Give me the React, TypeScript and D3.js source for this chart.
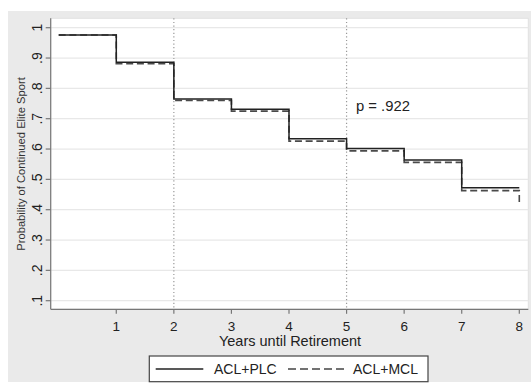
import React from "react";
import * as d3 from "d3";

const years = [0, 1, 2, 3, 4, 5, 6, 7, 8];
const aclPlc = [0.976, 0.886, 0.765, 0.731, 0.634, 0.602, 0.564, 0.472, 0.472];
const aclMcl = [0.976, 0.881, 0.760, 0.725, 0.626, 0.594, 0.556, 0.463, 0.425];
const xTicks = [1, 2, 3, 4, 5, 6, 7, 8];
const yTicks = [0.1, 0.2, 0.3, 0.4, 0.5, 0.6, 0.7, 0.8, 0.9, 1];
const yTickLabels = [".1", ".2", ".3", ".4", ".5", ".6", ".7", ".8", ".9", "1"];
const refLines = [2, 5];

const W = 531;
const H = 383;
const FONT = "'Liberation Sans', Arial, sans-serif";

export default function App() {
  const plot = { left: 50.7, right: 528.3, top: 18.3, bottom: 309.3 };
  const x = d3.scaleLinear().domain([0, 8]).range([58.7, 519.3]);
  const y = d3.scaleLinear().domain([0.1, 1]).range([300.7, 27.7]);

  const line = d3
    .line<number>()
    .x((d, i) => x(years[i]))
    .y((d) => y(d))
    .curve(d3.curveStepAfter);

  return (
    <svg
      width={W}
      height={H}
      style={{ position: "fixed", left: 0, top: 0 }}
      fontFamily={FONT}
    >
      <rect x={0} y={0} width={W} height={H} fill="#fff" />
      <rect x={8} y={11} width={W - 8} height={371} fill="#eaeaea" />
      <rect
        x={plot.left}
        y={plot.top}
        width={plot.right - plot.left}
        height={plot.bottom - plot.top}
        fill="#fff"
        stroke="#e2e2e2"
        strokeWidth={1}
      />

      {/* grid */}
      {yTicks.map((t) => (
        <line
          key={"g" + t}
          x1={plot.left}
          x2={plot.right}
          y1={y(t)}
          y2={y(t)}
          stroke="#e8e8e8"
          strokeWidth={1.3}
        />
      ))}

      {/* reference lines */}
      {refLines.map((t) => (
        <line
          key={"r" + t}
          x1={x(t)}
          x2={x(t)}
          y1={plot.top}
          y2={plot.bottom}
          stroke="#999"
          strokeWidth={1.2}
          strokeDasharray="1.2 2.4"
        />
      ))}

      {/* axes */}
      <line x1={plot.left} x2={plot.left} y1={plot.top} y2={plot.bottom} stroke="#777" strokeWidth={1.2} />
      <line x1={plot.left} x2={plot.right} y1={plot.bottom} y2={plot.bottom} stroke="#777" strokeWidth={1.2} />

      {yTicks.map((t, i) => (
        <g key={"yt" + t}>
          <line x1={plot.left - 5} x2={plot.left} y1={y(t)} y2={y(t)} stroke="#777" strokeWidth={1.2} />
          <text
            transform={`translate(37,${y(t)}) rotate(-90)`}
            textAnchor="middle"
            dominantBaseline="central"
            fontSize={14}
            fill="#222"
          >
            {yTickLabels[i]}
          </text>
        </g>
      ))}

      {xTicks.map((t) => (
        <g key={"xt" + t}>
          <line x1={x(t)} x2={x(t)} y1={plot.bottom} y2={plot.bottom + 4.5} stroke="#777" strokeWidth={1.2} />
          <text x={x(t)} y={330.5} textAnchor="middle" fontSize={13.5} fill="#222">
            {t}
          </text>
        </g>
      ))}

      <text x={290} y={345.5} textAnchor="middle" fontSize={14.5} fill="#222">
        Years until Retirement
      </text>
      <text
        transform="translate(21,164) rotate(-90)"
        textAnchor="middle"
        dominantBaseline="central"
        fontSize={11.2}
        fill="#333"
      >
        Probability of Continued Elite Sport
      </text>

      {/* curves */}
      <path d={line(aclMcl) || ""} fill="none" stroke="#4a4a4a" strokeWidth={1.6} strokeDasharray="7 3.7" />
      <path d={line(aclPlc) || ""} fill="none" stroke="#222" strokeWidth={1.5} />

      <text x={356} y={111} fontSize={14.8} fill="#222">
        p = .922
      </text>

      {/* legend */}
      <rect x={149.3} y={356} width={278.7} height={25.7} fill="#fff" stroke="#444" strokeWidth={1.2} />
      <line x1={155.7} x2={203.3} y1={369} y2={369} stroke="#222" strokeWidth={1.3} />
      <text x={214} y={374} fontSize={14} fill="#222">
        ACL+PLC
      </text>
      <line x1={288} x2={347} y1={369} y2={369} stroke="#444" strokeWidth={1.3} strokeDasharray="8 4" />
      <text x={353} y={374} fontSize={14} fill="#222">
        ACL+MCL
      </text>
    </svg>
  );
}
